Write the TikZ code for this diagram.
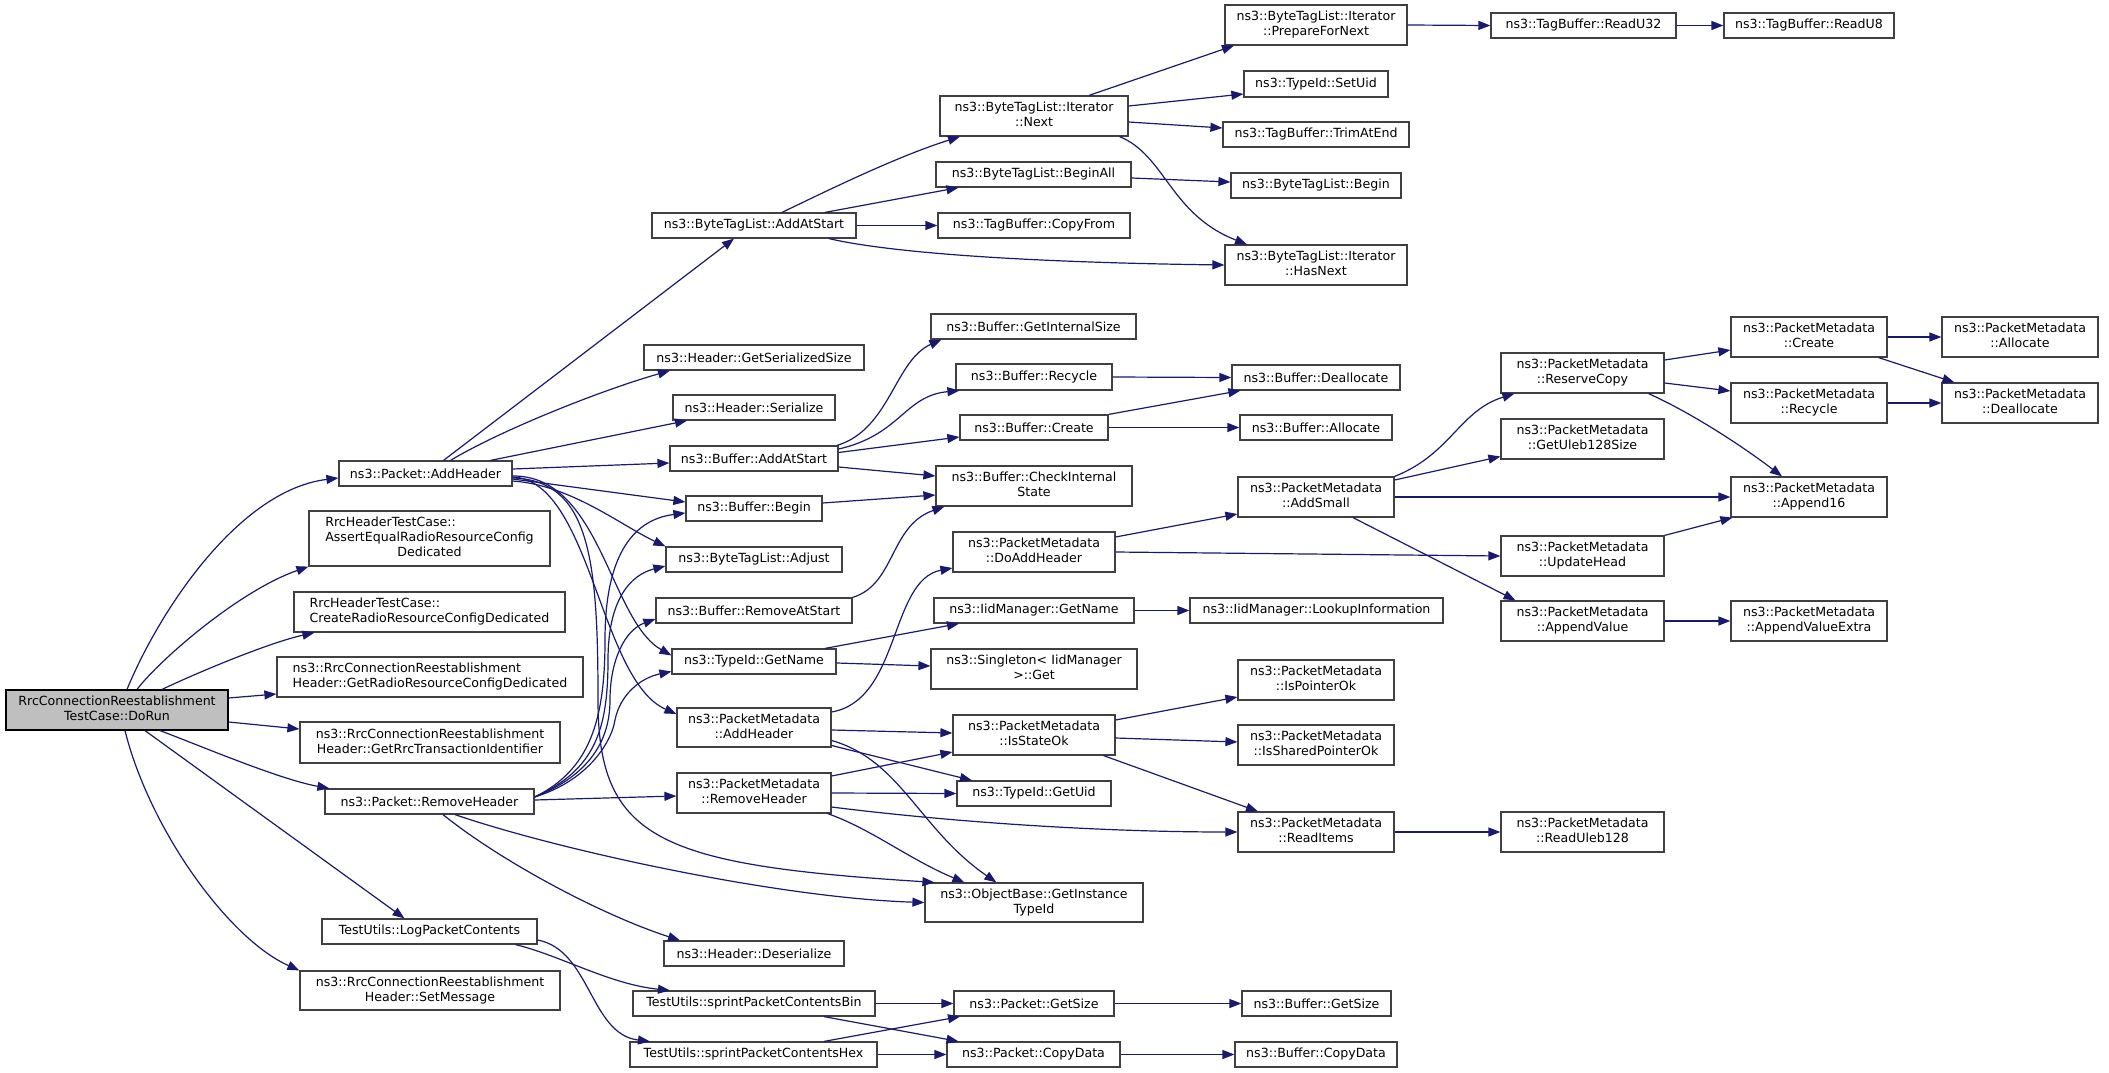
\documentclass[tikz,border=0pt]{standalone}
\usepackage{fontspec}
\setmainfont{DejaVu Sans}
\usetikzlibrary{arrows.meta}
\definecolor{edgec}{HTML}{191970}
\definecolor{nodeb}{HTML}{404040}
\definecolor{mainfill}{HTML}{BFBFBF}
\newcommand{\twoln}[2]{\begin{tabular}{@{}l@{}}#1\\\hfill#2\hfill\null\end{tabular}}
\newcommand{\threeln}[3]{\begin{tabular}{@{}l@{}}#1\\#2\\\hfill#3\hfill\null\end{tabular}}
\newcommand{\mkbox}[7][]{\node[box,#1,minimum width={(#5-#3)*1pt},minimum height={(#6-#4)*1pt}] (#2) at ({(#3+#5)/2},{(#4+#6)/2}) {#7};}
\tikzset{
  box/.style={draw=nodeb,line width=1.2pt,inner sep=0pt,fill=white,font=\fontsize{12.6}{15}\selectfont},
  e/.style={draw=edgec,line width=1.2pt,-{Triangle[length=12pt,width=9pt]}}
}
\begin{document}
\begin{tikzpicture}[x=1pt,y=-1pt]
\useasboundingbox (0,0) rectangle (2109,1073);
% column 1
\mkbox[fill=mainfill,draw=black]{dorun}{6}{690}{228}{730}{\twoln{RrcConnectionReestablishment}{TestCase::DoRun}}
% column 2
\mkbox{pah}{339}{461}{512}{486}{ns3::Packet::AddHeader}
\mkbox{assert}{309}{511}{550}{566}{\threeln{RrcHeaderTestCase::}{AssertEqualRadioResourceConfig}{Dedicated}}
\mkbox{create}{294}{592}{565}{632}{\twoln{RrcHeaderTestCase::}{CreateRadioResourceConfigDedicated}}
\mkbox{getrrcd}{277}{657}{583}{697}{\twoln{ns3::RrcConnectionReestablishment}{Header::GetRadioResourceConfigDedicated}}
\mkbox{getrti}{300}{722}{560}{763}{\twoln{ns3::RrcConnectionReestablishment}{Header::GetRrcTransactionIdentifier}}
\mkbox{prh}{325}{789}{534}{814}{ns3::Packet::RemoveHeader}
\mkbox{log}{322}{919}{537}{944}{TestUtils::LogPacketContents}
\mkbox{setmsg}{300}{971}{560}{1010}{\twoln{ns3::RrcConnectionReestablishment}{Header::SetMessage}}
% column 3
\mkbox{btlaas}{652}{213}{856}{238}{ns3::ByteTagList::AddAtStart}
\mkbox{gss}{644}{345}{864}{370}{ns3::Header::GetSerializedSize}
\mkbox{ser}{673}{395}{835}{420}{ns3::Header::Serialize}
\mkbox{baas}{670}{446}{838}{471}{ns3::Buffer::AddAtStart}
\mkbox{begin}{686}{496}{822}{521}{ns3::Buffer::Begin}
\mkbox{adj}{666}{547}{842}{572}{ns3::ByteTagList::Adjust}
\mkbox{rastart}{656}{598}{852}{623}{ns3::Buffer::RemoveAtStart}
\mkbox{gname}{672}{649}{836}{674}{ns3::TypeId::GetName}
\mkbox{pmah}{677}{708}{831}{747}{\twoln{ns3::PacketMetadata}{::AddHeader}}
\mkbox{pmrh}{677}{773}{831}{813}{\twoln{ns3::PacketMetadata}{::RemoveHeader}}
\mkbox{deser}{664}{941}{844}{966}{ns3::Header::Deserialize}
\mkbox{bin}{633}{991}{875}{1016}{TestUtils::sprintPacketContentsBin}
\mkbox{hex}{630}{1042}{877}{1067}{TestUtils::sprintPacketContentsHex}
% column 4
\mkbox{next}{940}{96}{1128}{136}{\twoln{ns3::ByteTagList::Iterator}{::Next}}
\mkbox{beginall}{936}{162}{1131}{187}{ns3::ByteTagList::BeginAll}
\mkbox{copyfrom}{938}{213}{1130}{238}{ns3::TagBuffer::CopyFrom}
\mkbox{gis}{931}{314}{1136}{339}{ns3::Buffer::GetInternalSize}
\mkbox{recycle}{956}{364}{1112}{390}{ns3::Buffer::Recycle}
\mkbox{bcreate}{960}{415}{1108}{440}{ns3::Buffer::Create}
\mkbox{cis}{936}{466}{1132}{506}{\twoln{ns3::Buffer::CheckInternal}{State}}
\mkbox{pmdah}{953}{532}{1115}{572}{\twoln{ns3::PacketMetadata}{::DoAddHeader}}
\mkbox{iidget}{934}{598}{1134}{623}{ns3::IidManager::GetName}
\mkbox{single}{931}{649}{1137}{689}{\twoln{ns3::Singleton< IidManager}{>::Get}}
\mkbox{iso}{953}{715}{1115}{755}{\twoln{ns3::PacketMetadata}{::IsStateOk}}
\mkbox{getuid}{957}{781}{1111}{806}{ns3::TypeId::GetUid}
\mkbox{oit}{925}{883}{1143}{922}{\twoln{ns3::ObjectBase::GetInstance}{TypeId}}
\mkbox{gsize}{954}{991}{1114}{1016}{ns3::Packet::GetSize}
\mkbox{cdata}{947}{1042}{1120}{1067}{ns3::Packet::CopyData}
% column 5
\mkbox{prep}{1225}{5}{1407}{45}{\twoln{ns3::ByteTagList::Iterator}{::PrepareForNext}}
\mkbox{setuid}{1244}{71}{1388}{97}{ns3::TypeId::SetUid}
\mkbox{trim}{1223}{122}{1409}{147}{ns3::TagBuffer::TrimAtEnd}
\mkbox{btlbegin}{1231}{173}{1401}{198}{ns3::ByteTagList::Begin}
\mkbox{hasnext}{1225}{245}{1407}{285}{\twoln{ns3::ByteTagList::Iterator}{::HasNext}}
\mkbox{bdealloc}{1232}{365}{1400}{390}{ns3::Buffer::Deallocate}
\mkbox{balloc}{1240}{415}{1392}{440}{ns3::Buffer::Allocate}
\mkbox{addsmall}{1238}{477}{1394}{517}{\twoln{ns3::PacketMetadata}{::AddSmall}}
\mkbox{lookup}{1190}{598}{1443}{623}{ns3::IidManager::LookupInformation}
\mkbox{ispo}{1238}{660}{1394}{700}{\twoln{ns3::PacketMetadata}{::IsPointerOk}}
\mkbox{isspo}{1238}{725}{1394}{765}{\twoln{ns3::PacketMetadata}{::IsSharedPointerOk}}
\mkbox{readitems}{1238}{812}{1394}{852}{\twoln{ns3::PacketMetadata}{::ReadItems}}
\mkbox{bgsize}{1242}{991}{1391}{1016}{ns3::Buffer::GetSize}
\mkbox{bcdata}{1235}{1042}{1397}{1067}{ns3::Buffer::CopyData}
% column 6
\mkbox{readu32}{1491}{13}{1676}{38}{ns3::TagBuffer::ReadU32}
\mkbox{rescopy}{1501}{353}{1664}{393}{\twoln{ns3::PacketMetadata}{::ReserveCopy}}
\mkbox{uleb}{1501}{419}{1664}{459}{\twoln{ns3::PacketMetadata}{::GetUleb128Size}}
\mkbox{updhead}{1501}{536}{1664}{576}{\twoln{ns3::PacketMetadata}{::UpdateHead}}
\mkbox{appval}{1501}{601}{1664}{641}{\twoln{ns3::PacketMetadata}{::AppendValue}}
\mkbox{readuleb}{1501}{812}{1664}{852}{\twoln{ns3::PacketMetadata}{::ReadUleb128}}
% column 7
\mkbox{readu8}{1724}{13}{1894}{38}{ns3::TagBuffer::ReadU8}
\mkbox{pmcreate}{1731}{317}{1887}{357}{\twoln{ns3::PacketMetadata}{::Create}}
\mkbox{pmrecycle}{1731}{383}{1887}{423}{\twoln{ns3::PacketMetadata}{::Recycle}}
\mkbox{app16}{1731}{477}{1887}{517}{\twoln{ns3::PacketMetadata}{::Append16}}
\mkbox{appvx}{1731}{601}{1887}{641}{\twoln{ns3::PacketMetadata}{::AppendValueExtra}}
% column 8
\mkbox{pmalloc}{1942}{317}{2098}{357}{\twoln{ns3::PacketMetadata}{::Allocate}}
\mkbox{pmdealloc}{1942}{383}{2098}{423}{\twoln{ns3::PacketMetadata}{::Deallocate}}

% ---- edges from DoRun
\draw[e] ([xshift=10pt]dorun.north) .. controls +(33,-80) and +(-99,12) .. ([yshift=-4.5pt]pah.west);
\draw[e] ([xshift=20pt]dorun.north) .. controls +(23,-30) and +(-69,24) .. (assert.south west);
\draw[e] ([xshift=45pt]dorun.north) .. controls +(38,-18) and +(-45,10) .. ([xshift=21pt]create.south west);
\draw[e] ([yshift=12pt]dorun.east) -- ([yshift=-17pt]getrrcd.west);
\draw[e] ([yshift=-12pt]dorun.east) -- ([yshift=13.5pt]getrti.west);
\draw[e] ([xshift=43pt]dorun.south) .. controls +(40,15) and +(-50,-9) .. ([xshift=5pt]prh.north west);
\draw[e] ([xshift=28pt]dorun.south) -- ([xshift=-25pt]log.north);
\draw[e] ([xshift=8pt]dorun.south) .. controls +(25,100) and +(-70,-31) .. (setmsg.north west);
% ---- edges from Packet::AddHeader
\draw[e] ([xshift=18pt]pah.north) -- ([xshift=-20pt]btlaas.south);
\draw[e] ([xshift=25pt]pah.north) .. controls +(50,-30) and +(-70,20) .. ([xshift=-84pt]gss.south);
\draw[e] ([xshift=65pt]pah.north) -- ([xshift=-67pt]ser.south);
\draw[e] ([yshift=4.5pt]pah.east) -- ([yshift=-4.5pt]baas.west);
\draw[e] ([yshift=-5.5pt]pah.east) -- ([yshift=6.5pt]begin.west);
\draw[e] ([yshift=-7.5pt]pah.east) .. controls +(58,4) and +(-46,-22) .. (adj.north west);
\draw[e] ([yshift=-2.5pt]pah.east) .. controls +(88,-1) and +(-62,-35.5) .. ([yshift=6pt]gname.west);
\draw[e] ([yshift=-3.5pt]pah.east) .. controls +(78,3) and +(-77,-34) .. ([yshift=13.5pt]pmah.west);
\draw[e] ([yshift=-4.5pt]pah.east) .. controls (590,480) and (598,560) .. (598,700) .. controls (598,840) and (660,865) .. ([xshift=10pt]oit.north west);
% ---- edges from Packet::RemoveHeader
\draw[e] ([yshift=4.5pt]prh.east) .. controls (590,770) and (605,720) .. (605,640) .. controls (605,560) and (630,520) .. ([yshift=-4.5pt]begin.west);
\draw[e] ([yshift=4.5pt]prh.east) .. controls (595,770) and (608,730) .. (608,660) .. controls (608,600) and (630,575) .. ([yshift=-6.5pt]adj.west);
\draw[e] ([yshift=4.5pt]prh.east) .. controls (590,775) and (610,740) .. (610,700) .. controls (610,660) and (625,630) .. ([yshift=-8.5pt]rastart.west);
\draw[e] ([yshift=4.5pt]prh.east) .. controls (590,780) and (612,740) .. (615,720) .. controls (620,695) and (640,678) .. ([yshift=-10pt]gname.west);
\draw[e] ([yshift=1.5pt]prh.east) -- ([yshift=-3pt]pmrh.west);
\draw[e] ([xshift=25.5pt]prh.south) .. controls +(105,36) and +(-145,-4.5) .. (oit.west);
\draw[e] ([xshift=13.5pt]prh.south) .. controls +(57,46) and +(-80,-26) .. ([xshift=-74pt]deser.north);
% ---- edges from LogPacketContents and sprint*
\draw[e] ([xshift=-22pt]log.south east) .. controls +(45,11) and +(-60,-6) .. ([xshift=-84pt]bin.north);
\draw[e] ([yshift=-8.5pt]log.east) .. controls +(53,10) and +(-60,-7) .. ([xshift=-103.5pt]hex.north);
\draw[e] (bin.east) -- (gsize.west);
\draw[e] ([xshift=70pt]bin.south) -- ([xshift=-75pt]cdata.north);
\draw[e] ([xshift=70.5pt]hex.north) -- ([xshift=-74pt]gsize.south);
\draw[e] (hex.east) -- (cdata.west);
\draw[e] (gsize.east) -- (bgsize.west);
\draw[e] (cdata.east) -- (bcdata.west);
% ---- ByteTagList::AddAtStart
\draw[e] ([xshift=28pt]btlaas.north) .. controls +(58,-28) and +(-60,19) .. ([xshift=-74pt]next.south);
\draw[e] ([xshift=71pt]btlaas.north) -- ([xshift=-75pt]beginall.south);
\draw[e] (btlaas.east) -- (copyfrom.west);
\draw[e] ([xshift=75pt]btlaas.south) .. controls +(51,12) and +(-225,-3) .. (hasnext.west);
\draw[e] ([xshift=55pt]next.north) -- ([xshift=-82pt]prep.south);
\draw[e] ([yshift=10pt]next.east) -- ([yshift=-10pt]setuid.west);
\draw[e] ([yshift=-6pt]next.east) -- ([yshift=6.5pt]trim.west);
\draw[e] ([xshift=-9pt]next.south east) .. controls +(46,19) and +(-77,-30) .. ([xshift=-69pt]hasnext.north);
\draw[e] ([yshift=-3.5pt]beginall.east) -- ([yshift=3.5pt]btlbegin.west);
\draw[e] (prep.east) -- (readu32.west);
\draw[e] (readu32.east) -- (readu8.west);
% ---- Buffer
\draw[e] ([xshift=83pt]baas.north) .. controls +(53,-16) and +(-47,21) .. ([xshift=11pt]gis.south west);
\draw[e] ([yshift=9.5pt]baas.east) .. controls +(62,-14) and +(-55,5) .. ([xshift=4pt]recycle.south west);
\draw[e] ([yshift=6pt]baas.east) -- ([yshift=-9.5pt]bcreate.west);
\draw[e] ([yshift=-8.5pt]baas.east) -- ([yshift=10pt]cis.west);
\draw[e] ([yshift=5.5pt]begin.east) -- ([yshift=-9pt]cis.west);
\draw[e] (rastart.north east) .. controls +(43,-13) and +(-55,19) .. ([xshift=9pt]cis.south west);
\draw[e] (recycle.east) -- (bdealloc.west);
\draw[e] (bcreate.north east) -- ([xshift=9pt]bdealloc.south west);
\draw[e] (bcreate.east) -- (balloc.west);
% ---- TypeId::GetName
\draw[e] ([xshift=71pt]gname.north) -- ([xshift=-75pt]iidget.south);
\draw[e] ([yshift=-1.5pt]gname.east) -- ([yshift=3pt]single.west);
\draw[e] (iidget.east) -- (lookup.west);
% ---- PacketMetadata::AddHeader
\draw[e] ([yshift=15.5pt]pmah.east) .. controls +(69,-12) and +(-63,12) .. ([yshift=-16pt]pmdah.west);
\draw[e] ([yshift=-2.5pt]pmah.east) -- ([yshift=2pt]iso.west);
\draw[e] ([yshift=-18pt]pmah.east) -- ([xshift=-62pt]getuid.north);
\draw[e] ([yshift=-13pt]pmah.east) .. controls +(69,19.5) and +(-77,-53) .. ([xshift=72pt]oit.north west);
% ---- PacketMetadata::RemoveHeader
\draw[e] ([yshift=17pt]pmrh.east) -- ([yshift=-17pt]iso.west);
\draw[e] (pmrh.east) -- (getuid.west);
\draw[e] ([yshift=-14pt]pmrh.east) .. controls +(119,15) and +(-138,0) .. (readitems.west);
\draw[e] ([xshift=-4pt]pmrh.south east) .. controls +(43,15) and +(-55,-23) .. ([xshift=40pt]oit.north west);
% ---- DoAddHeader, AddSmall
\draw[e] ([yshift=15pt]pmdah.east) -- ([yshift=-17pt]addsmall.west);
\draw[e] (pmdah.east) -- (updhead.west);
\draw[e] (addsmall.north east) .. controls +(56,-22) and +(-55,17) .. ([xshift=14pt]rescopy.south west);
\draw[e] ([yshift=17pt]addsmall.east) -- ([yshift=-17.5pt]uleb.west);
\draw[e] (addsmall.east) -- (app16.west);
\draw[e] ([xshift=37pt]addsmall.south) -- ([xshift=-67pt]appval.north);
% ---- IsStateOk
\draw[e] ([yshift=15pt]iso.east) -- ([yshift=-17pt]ispo.west);
\draw[e] ([yshift=-3pt]iso.east) -- ([yshift=3pt]isspo.west);
\draw[e] ([xshift=-12pt]iso.south east) -- ([xshift=-58pt]readitems.north);
\draw[e] (readitems.east) -- (readuleb.west);
% ---- ReserveCopy etc.
\draw[e] ([yshift=13pt]rescopy.east) -- ([yshift=-13pt]pmcreate.west);
\draw[e] ([yshift=-10pt]rescopy.east) -- ([yshift=12pt]pmrecycle.west);
\draw[e] ([xshift=-16pt]rescopy.south east) .. controls +(42,19) and +(-42,-32) .. ([xshift=-27pt]app16.north);
\draw[e] (updhead.north east) -- ([xshift=2pt]app16.south west);
\draw[e] (appval.east) -- (appvx.west);
\draw[e] (pmcreate.east) -- (pmalloc.west);
\draw[e] ([xshift=-9pt]pmcreate.south east) -- ([xshift=13pt]pmdealloc.north west);
\draw[e] (pmrecycle.east) -- (pmdealloc.west);
\end{tikzpicture}
\end{document}
